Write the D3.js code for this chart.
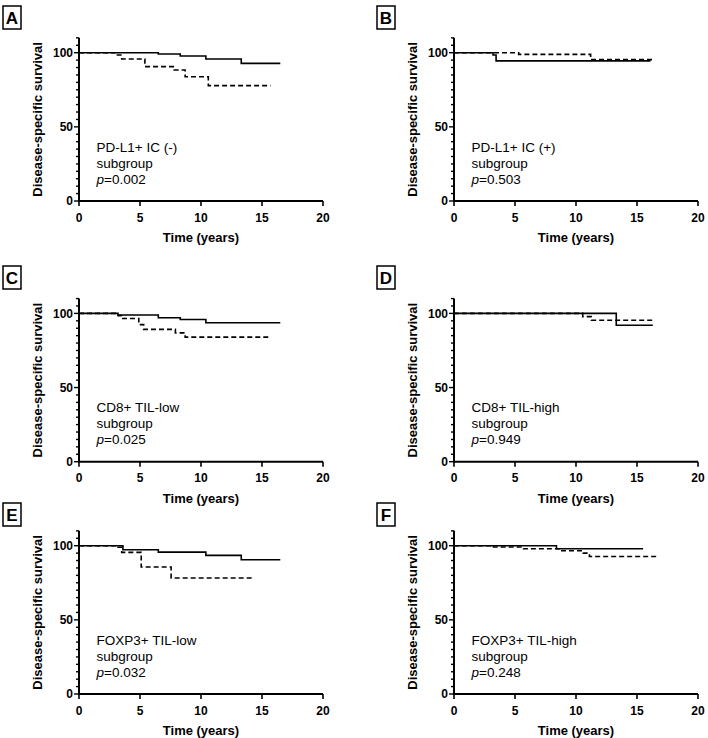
<!DOCTYPE html>
<html><head><meta charset="utf-8">
<script src="https://cdn.jsdelivr.net/npm/d3@7"></script>
<style>body{margin:0;background:#fff}svg{display:block}text{font-family:"Liberation Sans",Arial,sans-serif}</style>
</head><body>
<svg id="c" width="708" height="738"></svg>
<script>
const panelLetters = ["A","B","C","D","E","F"];
const groupNames = ["PD-L1+ IC (-)","PD-L1+ IC (+)","CD8+ TIL-low","CD8+ TIL-high","FOXP3+ TIL-low","FOXP3+ TIL-high"];
const pValues = ["0.002","0.503","0.025","0.949","0.032","0.248"];
const xTicks = [0,5,10,15,20];
const yMajorTicks = [0,50,100];

const solidA = [[0,100],[6.5,99.1],[8.3,97.8],[10.4,95.8],[13.3,92.8],[16.5,92.8]];
const dashedA = [[0,100],[3.0,98.4],[3.5,95.8],[5.4,90.6],[7.8,88.3],[8.7,83.8],[10.6,77.8],[15.7,77.8]];
const solidB = [[0,100],[3.2,98.4],[3.45,94.5],[16.1,94.5]];
const dashedB = [[0,100],[5.3,98.9],[11.2,95.3],[16.4,95.3]];
const solidC = [[0,100],[3.2,98.9],[6.5,97.1],[8.3,95.9],[10.4,93.7],[16.5,93.7]];
const dashedC = [[0,100],[3.2,98.5],[3.5,96.6],[4.9,92.4],[5.3,89.2],[7.9,86.9],[8.7,84.0],[15.7,84.0]];
const solidD = [[0,100],[13.3,92],[16.3,92]];
const dashedD = [[0,100],[10.55,97.8],[11.25,95.4],[16.3,95.4]];
const solidE = [[0,100],[3.6,97.3],[6.5,95.7],[10.4,93.5],[13.3,90.5],[16.5,90.5]];
const dashedE = [[0,100],[3.2,99],[3.5,95.5],[5.1,85.6],[7.55,78.2],[14.3,78.2]];
const solidF = [[0,100],[8.4,97.9],[15.5,97.9]];
const dashedF = [[0,100],[3.1,99.1],[5.7,97.9],[8.7,96.6],[10.6,95],[11.1,92.7],[16.6,92.7]];

const solids = [solidA,solidB,solidC,solidD,solidE,solidF];
const dashes = [dashedA,dashedB,dashedC,dashedD,dashedE,dashedF];

const svg = d3.select("#c");
const colX = [79, 454];
const rowY0 = [201, 461.7, 694];
const boxTop = [6, 266, 503];
const plotW = 244;
const h100 = 148.3;

panelLetters.forEach((L, i) => {
  const col = i % 2, row = Math.floor(i / 2);
  const x0 = colX[col], y0 = rowY0[row];
  const x = d3.scaleLinear().domain([0,20]).range([x0, x0 + plotW]);
  const y = d3.scaleLinear().domain([0,100]).range([y0, y0 - h100]);
  const g = svg.append("g");

  // panel letter box
  const bx = col === 0 ? 3 : 377;
  g.append("rect").attr("x", bx).attr("y", boxTop[row]).attr("width", 18).attr("height", 23)
    .attr("fill","none").attr("stroke","#000").attr("stroke-width",1.5);
  g.append("text").attr("x", bx + 9).attr("y", boxTop[row] + 18).attr("text-anchor","middle")
    .attr("font-size",17).attr("font-weight","bold").text(L);

  // curves
  const line = d3.line().x(d => x(d[0])).y(d => y(d[1])).curve(d3.curveStepAfter);
  g.append("path").attr("d", line(dashes[i])).attr("fill","none").attr("stroke","#000")
    .attr("stroke-width",1.6).attr("stroke-dasharray","5,3");
  g.append("path").attr("d", line(solids[i])).attr("fill","none").attr("stroke","#000")
    .attr("stroke-width",1.6);

  // y axis
  const yAll = d3.range(0, 111, 5);
  const yAx = g.append("g");
  yAx.append("line").attr("x1", x0).attr("x2", x0).attr("y1", y(0)).attr("y2", y(110))
    .attr("stroke","#000").attr("stroke-width",2);
  yAx.selectAll(".mt").data(yAll).join("line")
    .attr("x1", x0).attr("x2", d => x0 - (yMajorTicks.includes(d) ? 5 : 3))
    .attr("y1", d => y(d)).attr("y2", d => y(d)).attr("stroke","#000").attr("stroke-width",1.4);
  yAx.selectAll(".yl").data(yMajorTicks).join("text")
    .attr("x", x0 - 6).attr("y", d => y(d) + 4.2).attr("text-anchor","end")
    .attr("font-size",12).attr("font-weight","bold").text(d => d);

  // x axis
  const xAx = g.append("g");
  xAx.append("line").attr("x1", x0 - 1).attr("x2", x(20)).attr("y1", y0).attr("y2", y0)
    .attr("stroke","#000").attr("stroke-width",2);
  xAx.selectAll(".xt").data(xTicks).join("line")
    .attr("x1", d => x(d)).attr("x2", d => x(d)).attr("y1", y0).attr("y2", y0 + 5)
    .attr("stroke","#000").attr("stroke-width",1.6);
  xAx.selectAll(".xl").data(xTicks).join("text")
    .attr("x", d => x(d)).attr("y", y0 + 20.5).attr("text-anchor","middle")
    .attr("font-size",12).attr("font-weight","bold").text(d => d);

  // titles
  g.append("text").attr("x", x0 + plotW / 2).attr("y", y0 + 41).attr("text-anchor","middle")
    .attr("font-size",13).attr("font-weight","bold").text("Time (years)");
  g.append("text").attr("transform", `translate(${x0 - 37},${y(55)}) rotate(-90)`)
    .attr("text-anchor","middle").attr("font-size",13).attr("font-weight","bold")
    .text("Disease-specific survival");

  // annotation
  const tx = x0 + 17.5;
  g.append("text").attr("x", tx).attr("y", y0 - 49.5).attr("font-size",13.5).text(groupNames[i]);
  g.append("text").attr("x", tx).attr("y", y0 - 33.5).attr("font-size",13.5).text("subgroup");
  const pt = g.append("text").attr("x", tx).attr("y", y0 - 17.5).attr("font-size",13.5);
  pt.append("tspan").attr("font-style","italic").text("p");
  pt.append("tspan").text("=" + pValues[i]);
});
</script>
</body></html>
